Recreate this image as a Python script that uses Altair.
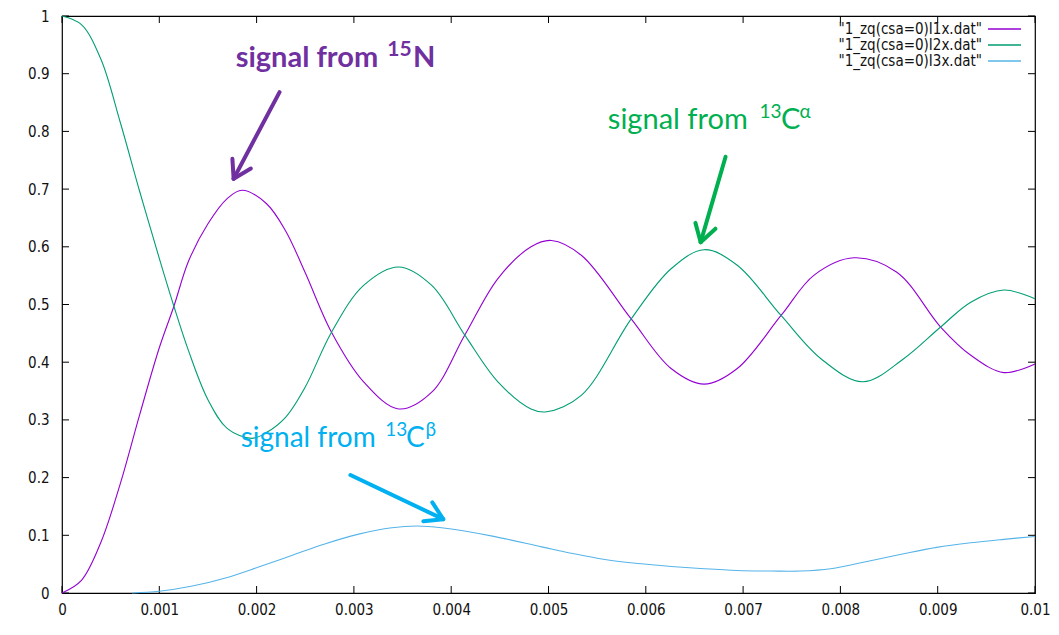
import math
import altair as alt
import pandas as pd

# ---------------- data ----------------
x_ticks = [0, 0.001, 0.002, 0.003, 0.004, 0.005, 0.006, 0.007, 0.008, 0.009, 0.01]
x_tick_labels = ["0", "0.001", "0.002", "0.003", "0.004", "0.005", "0.006", "0.007", "0.008", "0.009", "0.01"]
y_ticks = [0, 0.1, 0.2, 0.3, 0.4, 0.5, 0.6, 0.7, 0.8, 0.9, 1]
y_tick_labels = ["0", "0.1", "0.2", "0.3", "0.4", "0.5", "0.6", "0.7", "0.8", "0.9", "1"]

series_names = ['"1_zq(csa=0)I1x.dat"', '"1_zq(csa=0)I2x.dat"', '"1_zq(csa=0)I3x.dat"']
series_colors = ["#9400d3", "#009e73", "#56b4e9"]

i1_t = [0, 0.0002, 0.0004, 0.0006, 0.0008, 0.001, 0.00115, 0.0013, 0.0015, 0.0017,
        0.00185, 0.0021, 0.0023, 0.0025, 0.00277, 0.0031, 0.00346, 0.0038, 0.00414, 0.00448,
        0.00482, 0.00503, 0.00534, 0.00585, 0.00626, 0.0066, 0.00694, 0.00739, 0.00773, 0.00814,
        0.00858, 0.00903, 0.00934, 0.00968, 0.01]
i1_v = [0, 0.022, 0.088, 0.19, 0.31, 0.425, 0.497, 0.575, 0.64, 0.684,
        0.698, 0.675, 0.627, 0.555, 0.452, 0.366, 0.319, 0.348, 0.447, 0.545,
        0.600, 0.611, 0.585, 0.475, 0.389, 0.362, 0.389, 0.481, 0.551, 0.581,
        0.556, 0.461, 0.412, 0.382, 0.397]

i2_t = [0, 0.0002, 0.0004, 0.0006, 0.0008, 0.001, 0.00115, 0.0013, 0.0015, 0.0017,
        0.00195, 0.0021, 0.0023, 0.0025, 0.00277, 0.0031, 0.00346, 0.0038, 0.00414, 0.00448,
        0.00482, 0.00498, 0.00534, 0.00585, 0.00626, 0.0066, 0.00694, 0.00739, 0.0078, 0.00823,
        0.00865, 0.00903, 0.00934, 0.00968, 0.01]
i2_v = [1.0, 0.985, 0.925, 0.815, 0.695, 0.58, 0.497, 0.42, 0.335, 0.285,
        0.268, 0.278, 0.305, 0.357, 0.452, 0.533, 0.565, 0.533, 0.447, 0.366,
        0.319, 0.314, 0.343, 0.475, 0.562, 0.595, 0.568, 0.481, 0.406, 0.366,
        0.406, 0.461, 0.504, 0.525, 0.510]

i3_t = [0.00072, 0.001, 0.00134, 0.00168, 0.00202, 0.00236, 0.0027, 0.00305, 0.00339, 0.00365,
        0.0039, 0.00441, 0.00493, 0.00523, 0.00558, 0.00592, 0.00626, 0.0066, 0.00694, 0.00729,
        0.00759, 0.00790, 0.00831, 0.00865, 0.00899, 0.00934, 0.00968, 0.01]
i3_v = [0.0, 0.003, 0.012, 0.026, 0.045, 0.065, 0.085, 0.102, 0.113, 0.116,
        0.113, 0.099, 0.080, 0.069, 0.058, 0.051, 0.046, 0.042, 0.039, 0.038,
        0.038, 0.042, 0.056, 0.068, 0.079, 0.087, 0.093, 0.098]

# annotations (data units)
ann_main = ["signal from", "signal from", "signal from"]
ann_main_x = [0.001785, 0.00561, 0.001836]
ann_main_size = [29, 29, 28]
ann_y = [0.9116, 0.804, 0.253]
ann_sup1 = ["15", "13", "13"]
ann_sup1_x = [0.003343, 0.007169, 0.003323]
ann_letter = ["N", "C", "C"]
ann_letter_x = [0.003608, 0.00739, 0.003535]
ann_sup2 = ["", "α", "β"]
ann_sup2_x = [0.0, 0.00758, 0.003735]
ann_colors = ["#7030a0", "#00b050", "#00b0f0"]
ann_bold = [True, False, False]

arrow_start_x = [0.002236, 0.00682, 0.002964]
arrow_start_y = [0.868, 0.756, 0.2045]
arrow_end_x = [0.001764, 0.006564, 0.003918]
arrow_end_y = [0.718, 0.608, 0.128]

# ---------------- layout constants ----------------
W, H = 973, 577
PX_X = W / 0.01
PX_Y = H / 1.0
AX_FONT = "Liberation Sans Narrow, DejaVu Sans Condensed, Liberation Sans, sans-serif"
ANN_FONT = "Lato, Open Sans, sans-serif"

xscale = alt.Scale(domain=[0, 0.01], nice=False, zero=False)
yscale = alt.Scale(domain=[0, 1], nice=False, zero=False)

rows = []
for name, ts, vs in zip(series_names, [i1_t, i2_t, i3_t], [i1_v, i2_v, i3_v]):
    for k, (t, v) in enumerate(zip(ts, vs)):
        rows.append({"series": name, "t": t, "v": v, "k": k})
df = pd.DataFrame(rows)

xlab = "[" + ",".join("'%s'" % s for s in x_tick_labels) + "][round(datum.value*1000)]"
ylab = "[" + ",".join("'%s'" % s for s in y_tick_labels) + "][round(datum.value*10)]"

lines = alt.Chart(df).mark_line(strokeWidth=1.1, interpolate="catmull-rom").encode(
    x=alt.X("t:Q", scale=xscale, axis=alt.Axis(
        values=x_ticks, labelExpr=xlab, ticks=False, domain=False, grid=False, title=None,
        labelFont=AX_FONT, labelFontSize=15, labelColor="#111111", labelPadding=9,
        labelFlush=False, labelOverlap=False)),
    y=alt.Y("v:Q", scale=yscale, axis=alt.Axis(
        values=y_ticks, labelExpr=ylab, ticks=False, domain=False, grid=False, title=None,
        labelFont=AX_FONT, labelFontSize=15, labelColor="#111111", labelPadding=13,
        labelFlush=False, labelOverlap=False)),
    color=alt.Color("series:N", scale=alt.Scale(domain=series_names, range=series_colors), legend=None),
    order="k:Q",
    detail="series:N",
)

# inward ticks on all four sides
tl_y = 7 / PX_Y
tl_x = 7 / PX_X
xt = pd.DataFrame({"t": x_ticks * 2,
                   "a": [0] * len(x_ticks) + [1] * len(x_ticks),
                   "b": [tl_y] * len(x_ticks) + [1 - tl_y] * len(x_ticks)})
yt = pd.DataFrame({"v": y_ticks * 2,
                   "a": [0] * len(y_ticks) + [0.01] * len(y_ticks),
                   "b": [tl_x] * len(y_ticks) + [0.01 - tl_x] * len(y_ticks)})
xtick_layer = alt.Chart(xt).mark_rule(color="black", strokeWidth=1).encode(
    x=alt.X("t:Q", scale=xscale), y=alt.Y("a:Q", scale=yscale), y2="b:Q")
ytick_layer = alt.Chart(yt).mark_rule(color="black", strokeWidth=1).encode(
    y=alt.Y("v:Q", scale=yscale), x=alt.X("a:Q", scale=xscale), x2="b:Q")

layers = [xtick_layer, ytick_layer, lines]

# legend (gnuplot style: label then sample)
leg_y = [13, 29, 45]
for name, col, yy in zip(series_names, series_colors, leg_y):
    layers.append(alt.Chart(pd.DataFrame({"n": [name]})).mark_text(
        align="right", baseline="middle", font=AX_FONT, fontSize=15, color="#111111").encode(
        x=alt.value(920), y=alt.value(yy), text="n:N"))
    layers.append(alt.Chart(pd.DataFrame({"n": [name]})).mark_rule(color=col, strokeWidth=1.5).encode(
        x=alt.value(926), x2=alt.value(959), y=alt.value(yy)))

# annotation texts
for i in range(3):
    weight = "bold" if ann_bold[i] else "normal"
    sup_size = 21 if ann_bold[i] else 19
    pieces = [(ann_main[i], ann_main_x[i], ann_main_size[i], 0),
              (ann_sup1[i], ann_sup1_x[i], sup_size, -11),
              (ann_letter[i], ann_letter_x[i], ann_main_size[i], 0)]
    if ann_sup2[i]:
        pieces.append((ann_sup2[i], ann_sup2_x[i], sup_size, -11))
    for txt, xx, fs, dy in pieces:
        layers.append(alt.Chart(pd.DataFrame({"x": [xx], "y": [ann_y[i]], "s": [txt]})).mark_text(
            align="left", baseline="alphabetic", font=ANN_FONT, fontSize=fs, fontWeight=weight,
            dy=dy, color=ann_colors[i]).encode(
            x=alt.X("x:Q", scale=xscale), y=alt.Y("y:Q", scale=yscale), text="s:N"))

# arrows
for i in range(3):
    sx, sy, ex, ey = arrow_start_x[i], arrow_start_y[i], arrow_end_x[i], arrow_end_y[i]
    dx = (ex - sx) * PX_X
    dyp = (ey - sy) * PX_Y
    L = math.hypot(dx, dyp)
    ux, uy = dx / L, dyp / L
    hl = 20
    pts = []
    for ang in (0.55, -0.55):
        c, s = math.cos(ang), math.sin(ang)
        rx = ux * c - uy * s
        ry = ux * s + uy * c
        pts.append((ex - hl * rx / PX_X, ey - hl * ry / PX_Y))
    seg = pd.DataFrame({
        "x": [sx, ex, pts[0][0], ex, pts[1][0], ex],
        "y": [sy, ey, pts[0][1], ey, pts[1][1], ey],
        "g": [0, 0, 1, 1, 2, 2],
        "o": [0, 1, 0, 1, 0, 1],
    })
    layers.append(alt.Chart(seg).mark_line(strokeWidth=4, strokeCap="round", color=ann_colors[i]).encode(
        x=alt.X("x:Q", scale=xscale), y=alt.Y("y:Q", scale=yscale), detail="g:N", order="o:Q"))

chart = alt.layer(*layers).properties(
    width=W, height=H, autosize="none",
    padding={"left": 54, "top": 8, "right": 16, "bottom": 30},
    background="white",
).configure_view(stroke="black", strokeWidth=1.2)

chart.save("out.html", embed_options={"renderer": "svg", "actions": False})
